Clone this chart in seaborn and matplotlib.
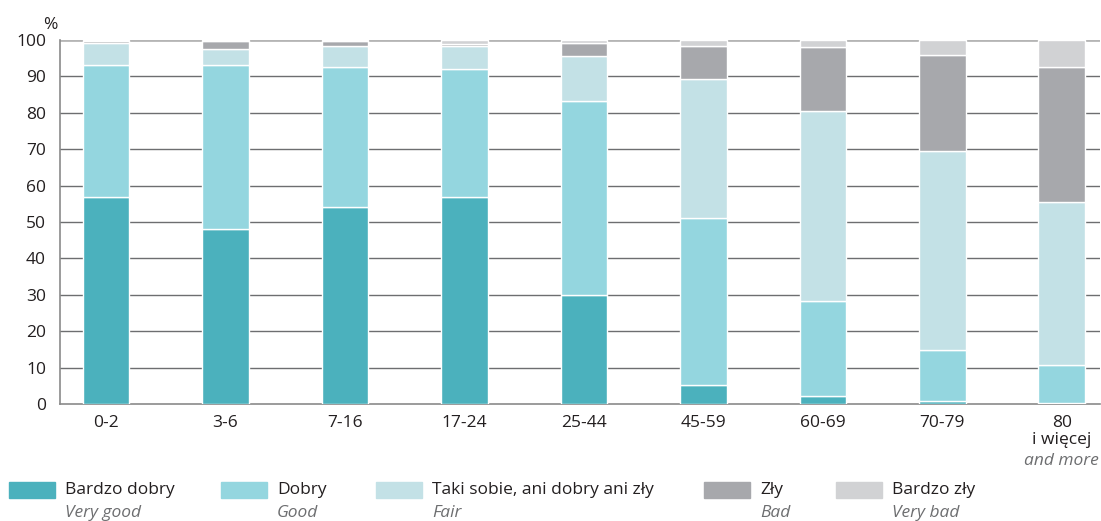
import numpy as np
import pandas as pd
import matplotlib
matplotlib.use("Agg")
import matplotlib.pyplot as plt
import seaborn as sns
from matplotlib.patches import Rectangle

# Data (share of respondents, %)
age_groups = ["0-2", "3-6", "7-16", "17-24", "25-44", "45-59", "60-69", "70-79", "80\ni więcej"]
bardzo_dobry = [57.0, 48.0, 54.0, 57.0, 30.0, 5.2, 2.2, 0.8, 0.3]
dobry = [36.0, 45.0, 38.6, 35.0, 53.2, 46.0, 26.0, 14.0, 10.4]
taki_sobie = [6.2, 4.5, 5.8, 6.3, 12.5, 38.1, 52.2, 54.7, 44.8]
zly = [0.6, 2.1, 1.2, 0.7, 3.4, 9.0, 17.6, 26.4, 37.1]
bardzo_zly = [0.2, 0.4, 0.4, 1.0, 0.9, 1.7, 2.0, 4.1, 7.4]

labels_pl = ["Bardzo dobry", "Dobry", "Taki sobie, ani dobry ani zły", "Zły", "Bardzo zły"]
labels_en = ["Very good", "Good", "Fair", "Bad", "Very bad"]
colors = ["#4bb1bd", "#94d6df", "#c3e1e6", "#a7a8ac", "#d1d2d4"]

df = pd.DataFrame({
    "Wiek": age_groups,
    "Bardzo dobry": bardzo_dobry,
    "Dobry": dobry,
    "Taki sobie": taki_sobie,
    "Zły": zly,
    "Bardzo zły": bardzo_zly,
})
series = ["Bardzo dobry", "Dobry", "Taki sobie", "Zły", "Bardzo zły"]

sns.set_style("white")
plt.rcParams["font.family"] = ["Open Sans", "DejaVu Sans"]

fig = plt.figure(figsize=(11.01, 5.21), dpi=100)
ax = fig.add_axes([60 / 1101, 1 - 404 / 521, 1040 / 1101, 364 / 521])

# Stacked bars
bottom = np.zeros(len(df))
for name, col in zip(series, colors):
    sns.barplot(data=df, x="Wiek", y=name, bottom=bottom, color=col, width=0.39,
                edgecolor="white", linewidth=1.0, ax=ax, zorder=3, saturation=1)
    bottom = bottom + df[name].values

ax.set_ylim(0, 100)
ax.set_xlim(-0.385, 8.32)
ax.set_yticks(np.arange(0, 101, 10))
ax.set_xlabel("")
ax.set_ylabel("")

# Gridlines
for v in range(10, 100, 10):
    ax.axhline(v, color="#6d6e70", lw=1.0, zorder=1)
ax.axhline(100, color="#b5b5b5", lw=2.0, zorder=1)

for s in ["top", "right"]:
    ax.spines[s].set_visible(False)
ax.spines["left"].set_color("#8a8a8a")
ax.spines["left"].set_linewidth(1.2)
ax.spines["bottom"].set_color("#8a8a8a")
ax.spines["bottom"].set_linewidth(1.2)

ax.tick_params(axis="y", length=0, labelsize=12.5, colors="#231f20", pad=10)
ax.tick_params(axis="x", which="major", length=0, labelsize=12.5, colors="#231f20", pad=8)
ax.set_xticks(np.arange(len(age_groups)))
ax.set_xticklabels(age_groups, linespacing=1.05)
ax.set_xticks(np.arange(0.5, len(age_groups) - 0.5, 1), minor=True)
ax.tick_params(axis="x", which="minor", length=7, color="#8a8a8a", width=1.2, direction="out")

ax.text(len(age_groups) - 1, -15.6, "and more", ha="center", va="center",
        fontsize=12.5, style="italic", color="#6d6e70")
ax.text(-0.47, 102, "%", ha="center", va="bottom", fontsize=12.5, color="#231f20")

# Legend drawn below the plot
patch_x = [9, 221, 376, 704, 836]
for x, col, pl, en in zip(patch_x, colors, labels_pl, labels_en):
    fig.add_artist(Rectangle((x / 1101, 1 - 498 / 521), 46 / 1101, 16 / 521,
                             transform=fig.transFigure, color=col))
    fig.text((x + 56) / 1101, 1 - 490 / 521, pl, ha="left", va="center",
             fontsize=12.5, color="#231f20")
    fig.text((x + 56) / 1101, 1 - 513 / 521, en, ha="left", va="center",
             fontsize=12.5, style="italic", color="#6d6e70")

fig.savefig("out.png", dpi=100)
